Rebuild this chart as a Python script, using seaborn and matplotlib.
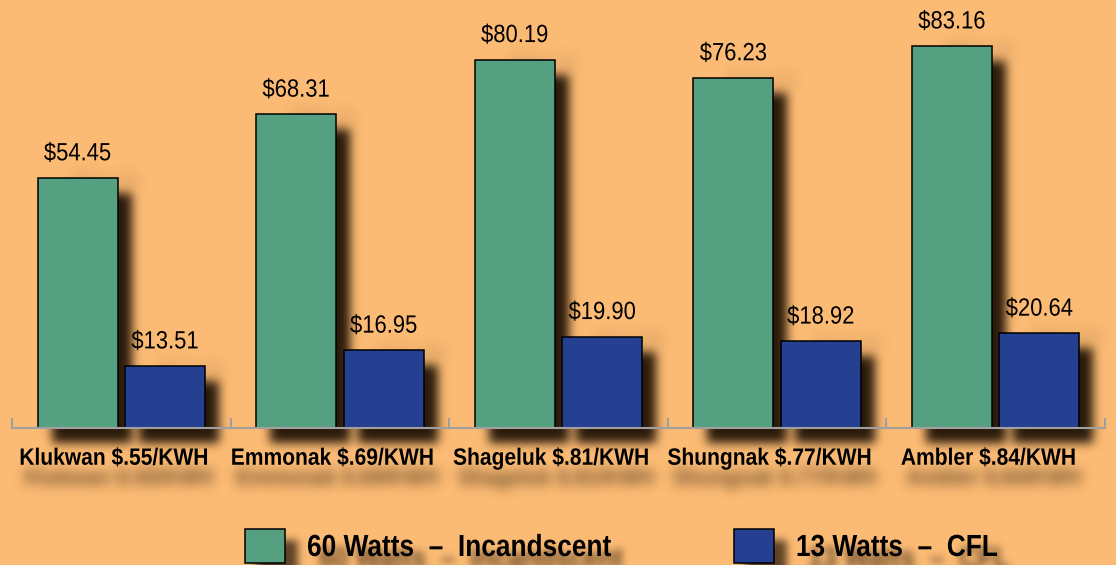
import numpy as np
import pandas as pd
import matplotlib
matplotlib.use('Agg')
import matplotlib.pyplot as plt
import matplotlib.transforms as mtransforms
from matplotlib.patches import Patch, Rectangle
from matplotlib.collections import PatchCollection
from matplotlib.patheffects import AbstractPathEffect
import seaborn as sns

# data
towns = ['Klukwan $.55/KWH', 'Emmonak $.69/KWH', 'Shageluk $.81/KWH',
         'Shungnak $.77/KWH', 'Ambler $.84/KWH']
incandescent = [54.45, 68.31, 80.19, 76.23, 83.16]
cfl = [13.51, 16.95, 19.90, 18.92, 20.64]
series_names = ['60 Watts  \u2013  Incandscent', '13 Watts  \u2013  CFL']

BG = '#FCBB74'
GREEN = '#54A081'
BLUE = '#253F91'
GRAY = '#A0A0A0'
SHADOW = (0.16, 0.10, 0.04)

plt.rcParams['font.family'] = ['Liberation Sans', 'DejaVu Sans']


def blur(a, sigma, r):
    x = np.arange(-r, r + 1)
    k = np.exp(-0.5 * (x / sigma) ** 2)
    k /= k.sum()
    for axis in (0, 1):
        pads = [(r, r) if i == axis else (0, 0) for i in range(2)]
        p = np.pad(a, pads)
        n = a.shape[axis]
        a = sum(w * np.take(p, range(i, i + n), axis=axis) for i, w in enumerate(k))
    return a


class Shadow:
    # blurred, offset drop shadow for any artist (agg_filter)
    def __init__(self, dx, dy, sigma, alpha):
        self.dx, self.dy, self.sigma, self.alpha = dx, dy, sigma, alpha

    def __call__(self, im, dpi):
        r = int(3 * self.sigma) + 1
        pad = r + max(abs(self.dx), abs(self.dy))
        a = np.pad(im[..., 3], pad)
        a = blur(a, self.sigma, r)
        a = np.roll(a, (self.dy, self.dx), axis=(0, 1))
        out = np.zeros(a.shape + (4,))
        out[..., :3] = SHADOW
        out[..., 3] = np.clip(a * self.alpha, 0, 1)
        return out, -pad, -pad


class Squeeze(AbstractPathEffect):
    # narrow the glyphs horizontally (no condensed font installed)
    def __init__(self, sx, anchor='center'):
        super().__init__()
        self.sx, self.anchor = sx, anchor

    def draw_path(self, renderer, gc, tpath, affine, rgbFace=None):
        v = tpath.vertices
        cx = (v[:, 0].min() + v[:, 0].max()) / 2 if (self.anchor == 'center' and len(v)) else 0
        t = mtransforms.Affine2D().translate(-cx, 0).scale(self.sx, 1).translate(cx, 0) + affine
        renderer.draw_path(gc, tpath, t, rgbFace)


df = pd.DataFrame({
    'town': towns * 2,
    'kind': [series_names[0]] * len(towns) + [series_names[1]] * len(towns),
    'cost': incandescent + cfl,
})

fig = plt.figure(figsize=(11.16, 5.65), dpi=100, facecolor=BG)
ax = fig.add_axes([12 / 1116, 137 / 565, 1093 / 1116, 413.5 / 565])
ax.set_facecolor('none')

sns.barplot(data=df, x='town', y='cost', hue='kind', palette=[GREEN, BLUE],
            saturation=1, edgecolor='black', linewidth=1.1, width=0.8, gap=0.085,
            legend=False, ax=ax, zorder=2)

ax.set_xlim(-0.5, len(towns) - 0.5)
ax.set_ylim(0, 90)
ax.set_xlabel('')
ax.set_ylabel('')
ax.set_yticks([])
for s in ['top', 'left', 'right']:
    ax.spines[s].set_visible(False)
ax.spines['bottom'].set_color(GRAY)
ax.spines['bottom'].set_linewidth(1.5)

ax.set_xticks(range(len(towns)))
ax.set_xticklabels(towns, fontsize=17, fontweight='bold')
ax.set_xticks(np.arange(-0.5, len(towns), 1), minor=True)
ax.tick_params(axis='x', which='major', length=0, pad=13.5)
ax.tick_params(axis='x', which='minor', direction='in', length=7.5, width=1.5, color=GRAY)
shift = mtransforms.ScaledTranslation(-7 / 100, 0, fig.dpi_scale_trans)
for lbl in ax.get_xticklabels():
    lbl.set_transform(lbl.get_transform() + shift)
    lbl.set_path_effects([Squeeze(0.89)])

# bar shadows
bars = [p for c in ax.containers for p in c]
shadows = PatchCollection([Rectangle(b.get_xy(), b.get_width(), b.get_height()) for b in bars],
                          facecolor='black', edgecolor='none', transform=ax.transData,
                          zorder=0.5, clip_on=False)
shadows.set_agg_filter(Shadow(14, 15, 5, 1.0))
ax.add_collection(shadows, autolim=False)

# value labels
for cont, vals in zip(ax.containers, [incandescent, cfl]):
    anns = ax.bar_label(cont, labels=[f'${v:.2f}' for v in vals], padding=9,
                        fontsize=18, color='black')
    for a in anns:
        a.set_path_effects([Squeeze(0.88)])
        ax.annotate(a.get_text(), xy=a.xy, xycoords=a.xycoords, xytext=a.xyann,
                    textcoords=a.anncoords, ha=a.get_ha(), va=a.get_va(),
                    fontproperties=a.get_fontproperties(), zorder=0.4,
                    path_effects=[Squeeze(0.88)],
                    agg_filter=Shadow(14, 15, 5, 0.55))

# category label shadows
for lbl in ax.get_xticklabels():
    ax.text(*lbl.get_position(), lbl.get_text(), transform=lbl.get_transform(),
            ha=lbl.get_ha(), va=lbl.get_va(), fontproperties=lbl.get_fontproperties(),
            clip_on=False, zorder=0.4, path_effects=[Squeeze(0.89)],
            agg_filter=Shadow(5, 20, 6, 0.7))

# legend (plus a blurred copy as its shadow)
handles = [Patch(facecolor=GREEN, edgecolor='black', linewidth=1.1),
           Patch(facecolor=BLUE, edgecolor='black', linewidth=1.1)]
leg_kw = dict(loc='lower left', bbox_to_anchor=(245 / 1116, 2 / 565), ncol=2,
              frameon=False, borderpad=0, borderaxespad=0, handlelength=1.31,
              handleheight=1.31, handletextpad=0.72, columnspacing=2.4,
              prop={'size': 22, 'weight': 'bold', 'family': plt.rcParams['font.family']})
leg_sh = fig.legend(handles, series_names, **leg_kw)
leg_sh.set_agg_filter(Shadow(12, 12, 4, 0.75))
leg_sh.set_zorder(4)
leg = fig.legend(handles, series_names, **leg_kw)
leg.set_zorder(5)
for l in (leg_sh, leg):
    for t in l.get_texts():
        t.set_path_effects([Squeeze(0.86, 'left')])

fig.savefig('out.png', dpi=100, facecolor=BG)
